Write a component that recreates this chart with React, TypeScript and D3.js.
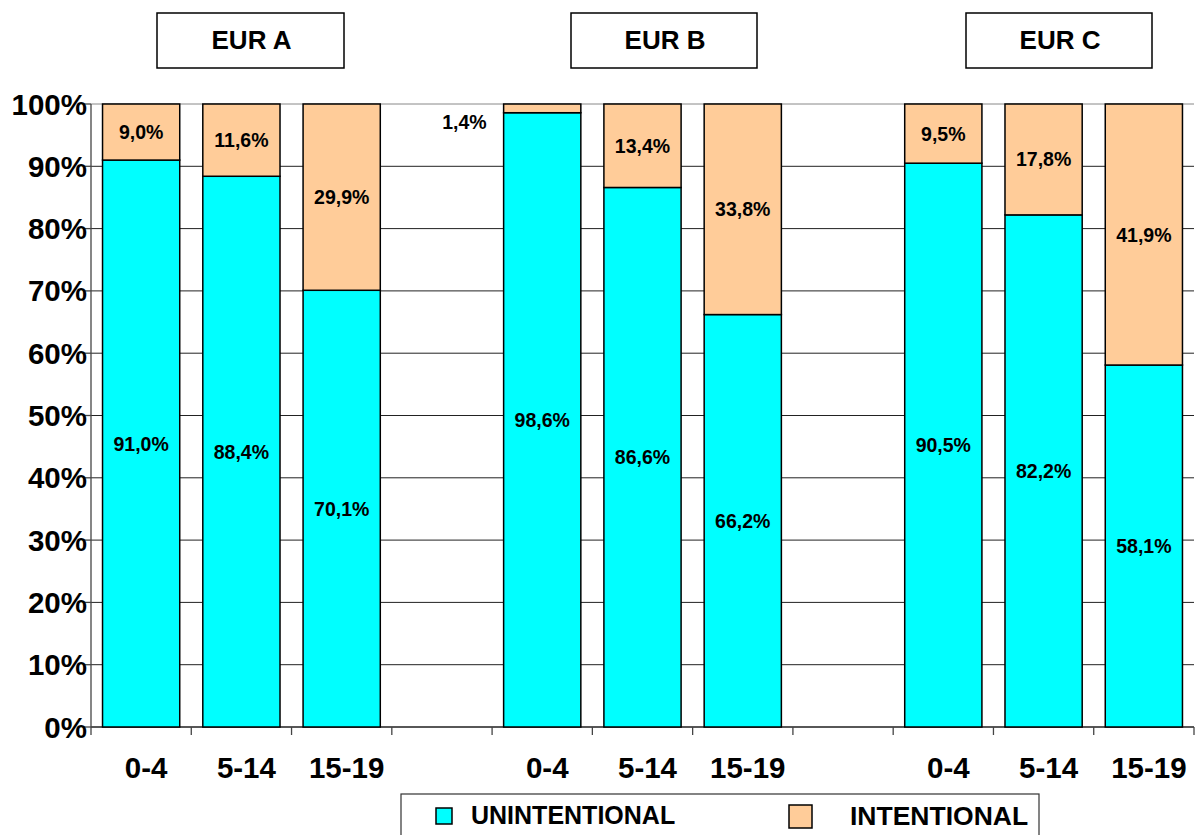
import React from "react";
import * as d3 from "d3";

const groups = ["EUR A", "EUR B", "EUR C"];
const ageGroups = ["0-4", "5-14", "15-19"];
const unintentional = [
  [91.0, 88.4, 70.1],
  [98.6, 86.6, 66.2],
  [90.5, 82.2, 58.1],
];
const intentional = [
  [9.0, 11.6, 29.9],
  [1.4, 13.4, 33.8],
  [9.5, 17.8, 41.9],
];
const yTicks = [0, 10, 20, 30, 40, 50, 60, 70, 80, 90, 100];
const seriesNames = ["UNINTENTIONAL", "INTENTIONAL"];

const W = 1195;
const H = 835;
const FONT = "'Liberation Sans', Arial, Helvetica, sans-serif";
const CYAN = "#00FFFF";
const PEACH = "#FFCC99";

const fmt = (v: number) => v.toFixed(1).replace(".", ",") + "%";

// slots: 3 bars, gap, 3 bars, gap, 3 bars
const slots: string[] = [];
groups.forEach((g, gi) => {
  ageGroups.forEach((a) => slots.push(g + "|" + a));
  if (gi < groups.length - 1) slots.push("gap" + gi);
});

export default function App() {
  const x = d3.scaleBand<string>().domain(slots).range([91, 1194]).padding(0);
  const y = d3.scaleLinear().domain([0, 100]).range([727, 104]);
  const bw = x.bandwidth();
  const barW = bw * 0.77;

  const bars: any[] = [];
  groups.forEach((g, gi) => {
    ageGroups.forEach((a, ai) => {
      const key = g + "|" + a;
      const x0 = (x(key) as number) + (bw - barW) / 2;
      const u = unintentional[gi][ai];
      const it = intentional[gi][ai];
      bars.push({ key, x0, u, it, a });
    });
  });

  const headerBoxes = [
    { x0: 157, x1: 344 },
    { x0: 571, x1: 757 },
    { x0: 966, x1: 1152 },
  ];

  return (
    <svg
      width={W}
      height={H}
      style={{ position: "absolute", left: 0, top: 0, background: "#fff" }}
      fontFamily={FONT}
    >
      {/* gridlines */}
      {yTicks.map((t) => (
        <line
          key={"g" + t}
          x1={91}
          x2={1194}
          y1={y(t)}
          y2={y(t)}
          stroke={t === 100 ? "#888" : "#222"}
          strokeWidth={1}
        />
      ))}
      {/* y axis */}
      <line x1={91} x2={91} y1={104} y2={727} stroke="#444" strokeWidth={1.3} />
      {yTicks.map((t) => (
        <g key={"yt" + t}>
          <line x1={83} x2={91} y1={y(t)} y2={y(t)} stroke="#444" strokeWidth={1.3} />
          <text
            x={87}
            y={y(t) + 10.5}
            textAnchor="end"
            fontSize={29.5}
            fontWeight="bold"
            fill="#000"
          >
            {t + "%"}
          </text>
        </g>
      ))}
      {/* x axis */}
      <line x1={91} x2={1194} y1={727} y2={727} stroke="#444" strokeWidth={1.3} />
      {slots.map((s, i) => (
        <line
          key={"xt" + i}
          x1={x(s) as number}
          x2={x(s) as number}
          y1={727}
          y2={735}
          stroke="#444"
          strokeWidth={1.3}
        />
      ))}
      <line x1={1194} x2={1194} y1={727} y2={735} stroke="#444" strokeWidth={1.3} />

      {/* bars */}
      {bars.map((b) => (
        <g key={b.key}>
          <rect
            x={b.x0}
            y={y(b.u)}
            width={barW}
            height={y(0) - y(b.u)}
            fill={CYAN}
            stroke="#000"
            strokeWidth={1.5}
          />
          <rect
            x={b.x0}
            y={y(100)}
            width={barW}
            height={y(b.u) - y(100)}
            fill={PEACH}
            stroke="#000"
            strokeWidth={1.5}
          />
        </g>
      ))}

      {/* data labels */}
      {bars.map((b) => {
        const cx = b.x0 + barW / 2;
        const small = b.it < 5;
        return (
          <g key={"l" + b.key} fontSize={19.5} fontWeight="bold" fill="#000">
            <text x={cx} y={y(b.u / 2) + 7} textAnchor="middle">
              {fmt(b.u)}
            </text>
            {small ? (
              <text x={b.x0 - 17} y={y(100 - b.it / 2) + 21} textAnchor="end">
                {fmt(b.it)}
              </text>
            ) : (
              <text x={cx} y={y(100 - b.it / 2) + 7} textAnchor="middle">
                {fmt(b.it)}
              </text>
            )}
          </g>
        );
      })}

      {/* x labels */}
      {bars.map((b) => (
        <text
          key={"xl" + b.key}
          x={(x(b.key) as number) + bw / 2 + 5}
          y={778}
          textAnchor="middle"
          fontSize={29.5}
          fontWeight="bold"
          fill="#000"
        >
          {b.a}
        </text>
      ))}

      {/* header boxes */}
      {groups.map((g, gi) => {
        const hb = headerBoxes[gi];
        return (
          <g key={"h" + g}>
            <rect
              x={hb.x0}
              y={13}
              width={hb.x1 - hb.x0}
              height={55}
              fill="#fff"
              stroke="#000"
              strokeWidth={1.5}
            />
            <text
              x={(hb.x0 + hb.x1) / 2 + 1}
              y={49}
              textAnchor="middle"
              fontSize={26}
              fontWeight="bold"
              fill="#000"
            >
              {g}
            </text>
          </g>
        );
      })}

      {/* legend */}
      <rect x={401} y={794} width={638} height={60} fill="#fff" stroke="#333" strokeWidth={1.2} />
      <rect x={436} y={808} width={16} height={16} fill={CYAN} stroke="#000" strokeWidth={1.5} />
      <text x={471} y={824} fontSize={25} fontWeight="bold" fill="#000">
        {seriesNames[0]}
      </text>
      <rect x={789} y={805} width={23} height={23} fill={PEACH} stroke="#000" strokeWidth={1.5} />
      <text x={850} y={825} fontSize={26.5} fontWeight="bold" fill="#000">
        {seriesNames[1]}
      </text>
    </svg>
  );
}
